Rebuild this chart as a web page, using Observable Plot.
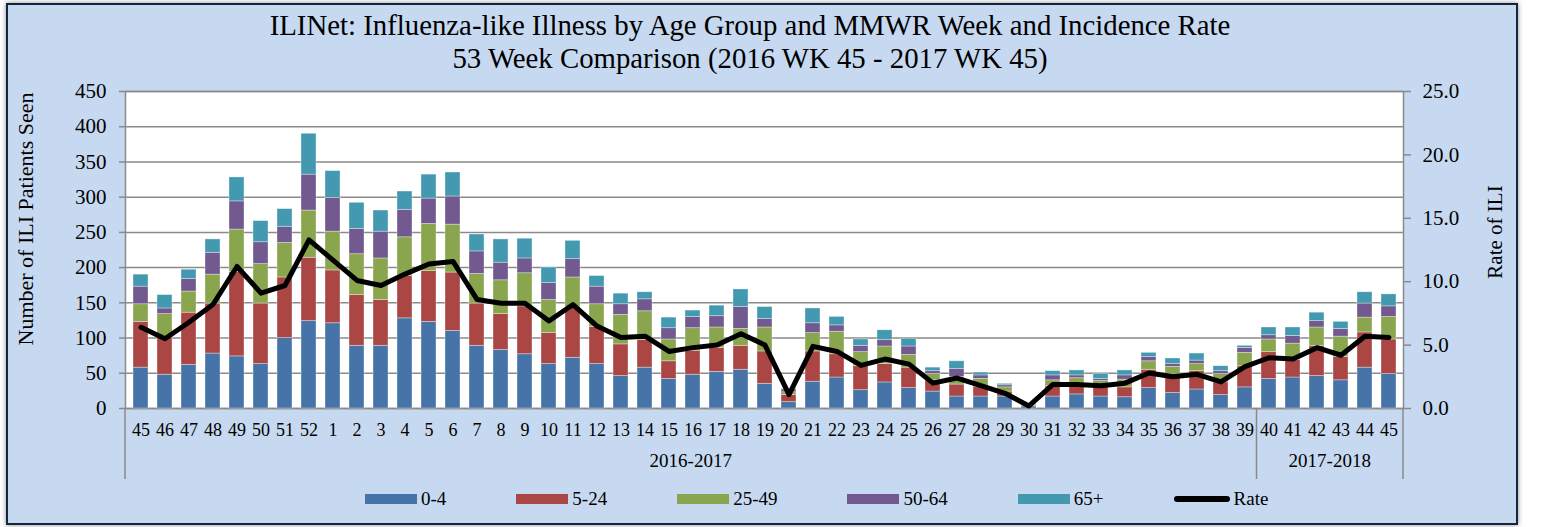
<!DOCTYPE html>
<html><head><meta charset="utf-8">
<script src="https://cdn.jsdelivr.net/npm/d3@7"></script>
<script src="https://cdn.jsdelivr.net/npm/@observablehq/plot@0.6"></script>
<style>
body{margin:0;background:#fff;width:1544px;height:527px;position:relative;overflow:hidden;font-family:"Liberation Serif",serif;}
#frame{position:absolute;left:6px;top:3px;width:1508px;height:518px;background:#C6D9F1;border:2px solid #12263F;box-shadow:0 0 5px rgba(0,0,0,0.45);}
#title{position:absolute;left:0;top:9px;width:1500px;text-align:center;font-size:28.8px;line-height:33px;color:#000;}
#chart{position:absolute;left:0;top:75px;}
#legend{position:absolute;left:365px;top:488px;display:flex;align-items:center;gap:70px;font-size:19px;}
.item{display:flex;align-items:center;gap:4px;}
.sw{width:52px;height:10px;}
.ln{width:56px;height:6px;background:#000;border-radius:3px;}
</style></head>
<body>
<div id="frame"></div>
<div id="title">ILINet: Influenza-like Illness by Age Group and MMWR Week and Incidence Rate<br>53 Week Comparison (2016 WK 45 - 2017 WK 45)</div>
<div id="chart"></div>
<div id="legend"></div>
<script>
const weeks = [45,46,47,48,49,50,51,52,1,2,3,4,5,6,7,8,9,10,11,12,13,14,15,16,17,18,19,20,21,22,23,24,25,26,27,28,29,30,31,32,33,34,35,36,37,38,39,40,41,42,43,44,45];
const seasonNames = ["2016-2017","2017-2018"];
const seasonLengths = [47, 6];
const groups = ["0-4","5-24","25-49","50-64","65+"];
const colors = ["#4674A9","#AA4644","#89A54E","#72598F","#4399B0"];
const age0_4 = [58,48,62,78,74,63,100,124,121,89,89,128,123,110,89,83,77,63,72,63,46,58,42,48,52,55,35,9,38,44,26,37,29,24,17,17,17,3,17,20,17,16,29,22,27,19,30,42,44,46,40,58,49];
const age5_24 = [65,52,74,71,120,86,86,90,75,72,65,60,72,83,60,51,68,44,72,53,45,39,25,34,34,34,46,10,43,33,34,26,29,16,17,14,7,1,15,16,14,14,26,26,26,18,30,38,25,43,33,50,49];
const age25_49 = [25,34,30,41,60,56,49,67,55,58,59,55,67,68,42,48,47,47,42,32,42,41,31,32,29,24,34,4,26,32,20,25,18,9,11,11,6,1,8,7,8,11,12,11,10,12,19,18,23,26,29,21,32];
const age50_64 = [25,8,18,31,40,31,23,51,48,36,38,39,36,40,32,25,21,24,26,25,15,17,16,16,16,31,12,4,14,9,9,9,12,4,11,5,3,1,7,4,3,6,6,4,5,4,7,6,11,9,11,20,15];
const age65 = [17,19,13,19,34,30,25,58,38,37,30,26,34,34,24,33,28,22,26,15,15,10,15,9,15,25,17,1,21,12,9,14,11,5,11,4,2,0,6,7,7,7,6,8,10,7,3,11,12,12,10,16,17];
const rate = [6.4,5.5,6.8,8.2,11.2,9.1,9.7,13.3,11.7,10.1,9.7,10.6,11.4,11.6,8.6,8.3,8.3,6.9,8.2,6.5,5.6,5.7,4.5,4.8,5.0,5.9,5.0,1.1,4.9,4.5,3.4,3.9,3.5,2.0,2.4,1.8,1.2,0.2,1.9,1.9,1.8,2.0,2.8,2.5,2.7,2.1,3.3,4.0,3.9,4.8,4.2,5.7,5.6];
const leftTicks = [0,50,100,150,200,250,300,350,400,450];
const rateTicks = [0,5,10,15,20,25];
const leftMax = 450, rateMax = 25;

const series = [age0_4, age5_24, age25_49, age50_64, age65];
const seasonOf = [];
seasonNames.forEach((s,i)=>{ for(let j=0;j<seasonLengths[i];j++) seasonOf.push(s); });
const keys = weeks.map((w,i)=> seasonOf[i] + " W" + w);
const weekOf = new Map(keys.map((k,i)=>[k, weeks[i]]));
const rows = keys.map((k,i)=>({key:k, rate:rate[i]}));
const long = groups.flatMap((g,gi)=> keys.map((k,i)=>({key:k, group:g, value:series[gi][i]})));
const k = leftMax / rateMax;

const W = 1544, H = 410, mL = 125, mR = 141, mT = 16, mB = 77;
const grid = "#8a8a8a";
const plot = Plot.plot({
  width: W, height: H, marginLeft: mL, marginRight: mR, marginTop: mT, marginBottom: mB,
  style: {background: "transparent", fontFamily: "Liberation Serif", color: "#000"},
  x: {type: "band", domain: keys, paddingInner: 0.38, paddingOuter: 0.2},
  y: {domain: [0, leftMax]},
  color: {domain: groups, range: colors},
  marks: [
    Plot.frame({fill: "white", stroke: grid, strokeWidth: 1.5}),
    Plot.ruleY(leftTicks, {stroke: grid, strokeWidth: 1.5}),
    Plot.barY(long, {x: "key", y: "value", fill: "group", stroke: "white", strokeOpacity: 0.45, strokeWidth: 0.75}),
    Plot.line(rows, {x: "key", y: d => d.rate * k, stroke: "black", strokeWidth: 5, strokeLinejoin: "round", strokeLinecap: "round"}),
    Plot.axisY({ticks: leftTicks, tickSize: 6, tickPadding: 13, fontSize: 21, stroke: grid, strokeWidth: 1.5, fill: "#000", label: null}),
    Plot.axisY({anchor: "right", ticks: rateTicks.map(r => r * k), tickFormat: d => (d / k).toFixed(1), tickSize: 7, tickPadding: 12, fontSize: 21, stroke: grid, strokeWidth: 1.5, fill: "#000", label: null}),
    Plot.axisX({tickSize: 0, tickPadding: 15, fontSize: 18, tickFormat: d => weekOf.get(d), fill: "#000", label: null})
  ]
});
document.getElementById("chart").appendChild(plot);

const xs = plot.scale("x");
const svg = d3.select(plot);
const left = mL, right = W - mR, bottom = H - mB;
const gap = xs.step - xs.bandwidth;
const seps = [left];
let acc = 0;
seasonLengths.forEach((n,i)=>{ acc += n; seps.push(acc < keys.length ? xs.apply(keys[acc]) - gap/2 : right); });
svg.append("g").selectAll("line").data(seps).join("line")
  .attr("x1", d=>d).attr("x2", d=>d).attr("y1", bottom).attr("y2", bottom + 71)
  .attr("stroke", grid).attr("stroke-width", 1.5);
svg.append("g").selectAll("text").data(seasonNames).join("text")
  .attr("x", (d,i)=>(seps[i]+seps[i+1])/2).attr("y", bottom + 59)
  .attr("text-anchor","middle").attr("font-size", 19).attr("font-family","Liberation Serif").attr("fill","#000")
  .text(d=>d);
svg.append("text").attr("transform", `translate(28,${144}) rotate(-90)`).attr("text-anchor","middle").attr("dominant-baseline","middle")
  .attr("font-size", 22).attr("font-family","Liberation Serif").attr("fill","#000").text("Number of ILI Patients Seen");
svg.append("text").attr("transform", `translate(1497,${157}) rotate(-90)`).attr("text-anchor","middle").attr("dominant-baseline","middle")
  .attr("font-size", 21).attr("font-family","Liberation Serif").attr("fill","#000").text("Rate of ILI");

const legend = d3.select("#legend");
groups.forEach((g,i)=>{
  const it = legend.append("div").attr("class","item");
  it.append("div").attr("class","sw").style("background", colors[i]);
  it.append("span").text(g);
});
const it = legend.append("div").attr("class","item");
it.append("div").attr("class","ln");
it.append("span").text("Rate");
</script>
</body></html>
